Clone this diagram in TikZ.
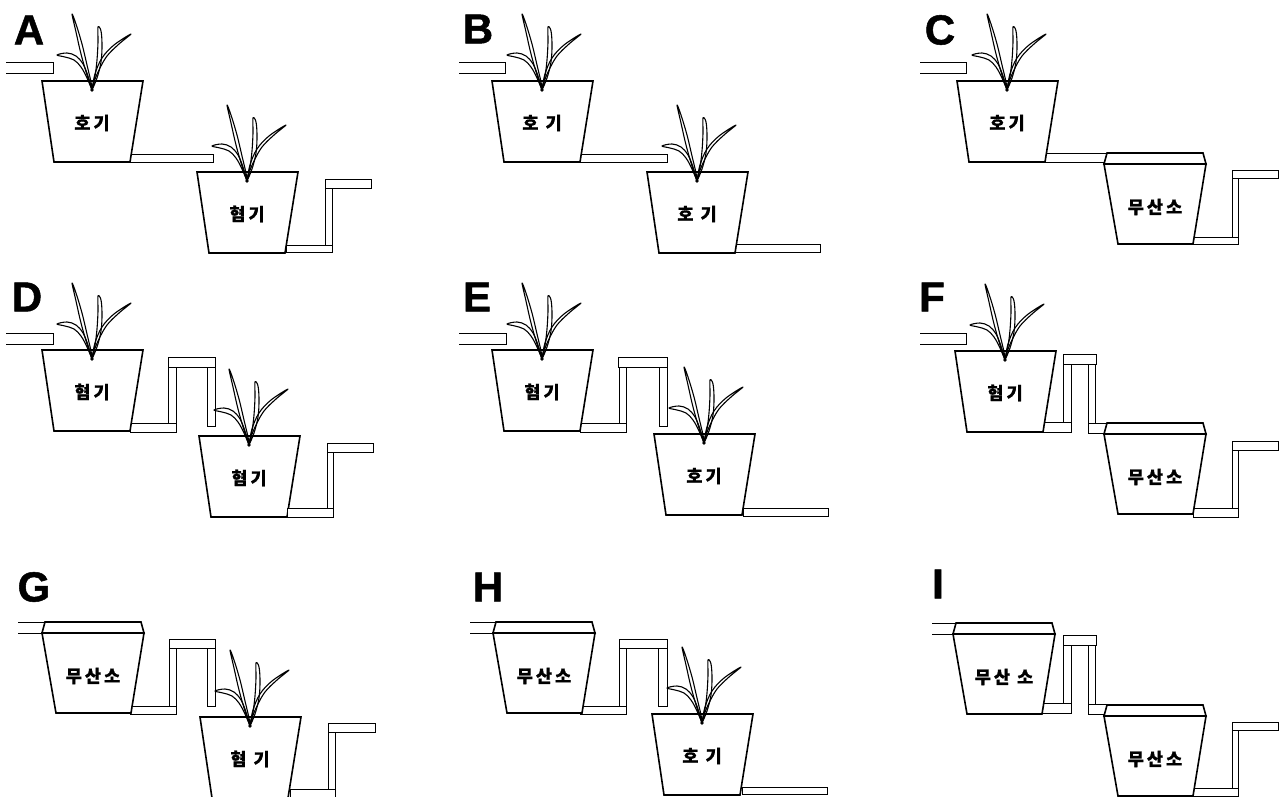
\documentclass[tikz,border=0pt]{standalone}
\usepackage{fontspec}
\newfontfamily\krfont{Noto Sans CJK KR}[BoldFeatures={FakeBold=0.8}]
\newfontfamily\letterfont{Liberation Sans}[BoldFeatures={FakeBold=1.2}]
\newcommand{\ls}{\kern3pt}
\tikzset{
  potline/.style={draw=black, fill=white, line width=1.6pt, line join=miter},
  pipe/.style={draw=black, fill=white, line width=0.9pt},
  inletline/.style={draw=black, line width=0.9pt},
  leaf/.style={draw=black, line width=1.1pt, line join=round},
  lbl/.style={font=\krfont\bfseries\fontsize{17.5}{17.5}\selectfont, inner sep=0pt},
  panelletter/.style={font=\letterfont\bfseries\fontsize{42}{42}\selectfont, inner sep=0pt},
}
% a tuft of four leaves rooted at (#1,#2)
\newcommand{\plant}[2]{%
  \begin{scope}[shift={(#1,#2)}]
    \draw[leaf] plot[smooth, tension=0.6] coordinates {(0,0) (-5,-15) (-11,-36) (-16,-58) (-20,-76) (-16,-66) (-10,-46) (-5,-25) (-1,-8) (0,0)};
    \draw[leaf] plot[smooth, tension=0.6] coordinates {(0,0) (-4,-14) (-9,-26) (-16,-34) (-25,-37) (-35,-35) (-27,-33) (-18,-30) (-11,-23) (-5,-12) (0,0)};
    \draw[leaf] plot[smooth, tension=0.6] coordinates {(0,0) (3,-14) (5,-30) (6,-48) (6,-63) (9,-59) (10,-45) (9,-28) (5,-12) (0,0)};
    \draw[leaf] plot[smooth, tension=0.6] coordinates {(0,0) (3,-16) (10,-32) (22,-45) (39,-56) (27,-46) (15,-34) (7,-20) (2,-8) (0,0)};
    \fill (0,0) circle[radius=1.8pt];
  \end{scope}}
% planted pot: name, top-left x, top-left y, label
\newcommand{\pot}[4]{%
  \filldraw[potline] (#2,#3) -- ++(101,0) -- ++(-13,81) -- ++(-76,0) -- cycle;
  \plant{#2+50}{#3+9}
  \node[lbl] (#1) at (#2+50,#3+42) {#4};}
% lidded anoxic tank: name, body top-left x, body top-left y, label
\newcommand{\tank}[4]{%
  \filldraw[potline] (#2,#3) -- (#2+3,#3-11) -- (#2+99,#3-11) -- (#2+102,#3) -- cycle;
  \filldraw[potline] (#2,#3) -- ++(102,0) -- ++(-13,80) -- ++(-75,0) -- cycle;
  \node[lbl] (#1) at (#2+51,#3+43) {#4};}
\newcommand{\pipe}[4]{\filldraw[pipe] (#1,#2) rectangle (#3,#4);}
\newcommand{\inlet}[3]{\draw[inletline] (#1,#3) -- (#2,#3) -- (#2,#3+11) -- (#1,#3+11);}
\begin{document}
\begin{tikzpicture}[x=1pt,y=-1pt]
\useasboundingbox (0,0) rectangle (1285,796);
\fill[white] (0,0) rectangle (1285,796);
\clip (0,0) rectangle (1285,796);

% ---------- A ----------
\node[panelletter] (LA) at (29,30) {A};
\inlet{6}{53}{62}
\pipe{129}{154}{213}{162}
\pipe{325}{183}{332}{252}
\pipe{286}{245}{332}{252}
\pipe{325}{179}{371}{188}
\pot{A1}{42}{81}{호\ls 기}
\pot{A2}{197}{172}{혐\ls 기}

% ---------- B ----------
\node[panelletter] (LB) at (478,29) {B};
\inlet{459}{505}{62}
\pipe{580}{154}{667}{162}
\pipe{735}{244}{820}{252}
\pot{B1}{492}{81}{호\ls\ 기}
\pot{B2}{647}{172}{호\ls\ 기}

% ---------- C ----------
\node[panelletter] (LC) at (940,30) {C};
\inlet{920}{966}{62}
\pipe{1040}{153}{1106}{162}
\pipe{1232}{174}{1238}{244}
\pipe{1193}{237}{1238}{244}
\pipe{1232}{170}{1278}{178}
\pot{C1}{957}{81}{호\ls 기}
\tank{C2}{1104}{164}{무\ls 산\ls 소}

% ---------- D ----------
\node[panelletter] (LD) at (27,297) {D};
\inlet{6}{53}{333}
\pipe{168}{362}{176}{432}
\pipe{207}{362}{215}{426}
\pipe{130}{423}{176}{432}
\pipe{168}{357}{215}{367}
\pot{D1}{42}{350}{혐\ls 기}
\pot{D2}{199}{436}{혐\ls 기}
\pipe{327}{447}{333}{517}
\pipe{287}{508}{333}{517}
\pipe{327}{443}{373}{452}

% ---------- E ----------
\node[panelletter] (LE) at (477,297) {E};
\inlet{459}{506}{333}
\pipe{619}{362}{626}{432}
\pipe{659}{362}{667}{426}
\pipe{580}{423}{626}{432}
\pipe{618}{357}{667}{367}
\pot{E1}{492}{350}{혐\ls 기}
\pipe{743}{508}{828}{516}
\pot{E2}{654}{434}{호\ls 기}

% ---------- F ----------
\node[panelletter] (LF) at (932,297) {F};
\inlet{920}{966}{333}
\pipe{1063}{360}{1071}{422}
\pipe{1088}{360}{1095}{424}
\pipe{1040}{422}{1071}{432}
\pipe{1063}{354}{1096}{364}
\pipe{1088}{423}{1106}{433}
\pot{F1}{955}{351}{혐\ls 기}
\pipe{1232}{445}{1238}{517}
\pipe{1193}{508}{1238}{517}
\pipe{1232}{441}{1278}{450}
\tank{F2}{1104}{434}{무\ls 산\ls 소}

% ---------- G ----------
\node[panelletter] (LG) at (34,587) {G};
\draw[inletline] (18,622) -- (45,622);
\draw[inletline] (18,633) -- (42,633);
\pipe{169}{644}{176}{714}
\pipe{207}{644}{215}{706}
\pipe{130}{706}{176}{714}
\pipe{169}{639}{215}{648}
\tank{G1}{42}{633}{무\ls 산\ls 소}
\pipe{328}{727}{335}{797}
\pipe{290}{789}{335}{797}
\pipe{328}{723}{375}{732}
\pot{G2}{200}{717}{혐\ls\ 기}

% ---------- H ----------
\node[panelletter] (LH) at (488,587) {H};
\draw[inletline] (470,622) -- (496,622);
\draw[inletline] (470,633) -- (493,633);
\pipe{619}{644}{626}{714}
\pipe{658}{644}{667}{706}
\pipe{580}{706}{626}{714}
\pipe{619}{639}{667}{648}
\tank{H1}{493}{633}{무\ls 산\ls 소}
\pipe{742}{787}{827}{794}
\pot{H2}{652}{714}{호\ls\ 기}

% ---------- I ----------
\node[panelletter] (LI) at (938,584) {I};
\draw[inletline] (932,623) -- (956,623);
\draw[inletline] (932,634) -- (953,634);
\pipe{1063}{640}{1071}{703}
\pipe{1088}{640}{1095}{704}
\pipe{1040}{703}{1071}{713}
\pipe{1063}{635}{1096}{645}
\pipe{1088}{704}{1106}{714}
\tank{I1}{953}{634}{무\ls 산\ls\ 소}
\pipe{1232}{726}{1238}{796}
\pipe{1193}{788}{1238}{796}
\pipe{1232}{722}{1278}{730}
\tank{I2}{1104}{716}{무\ls 산\ls 소}
\end{tikzpicture}
\end{document}
